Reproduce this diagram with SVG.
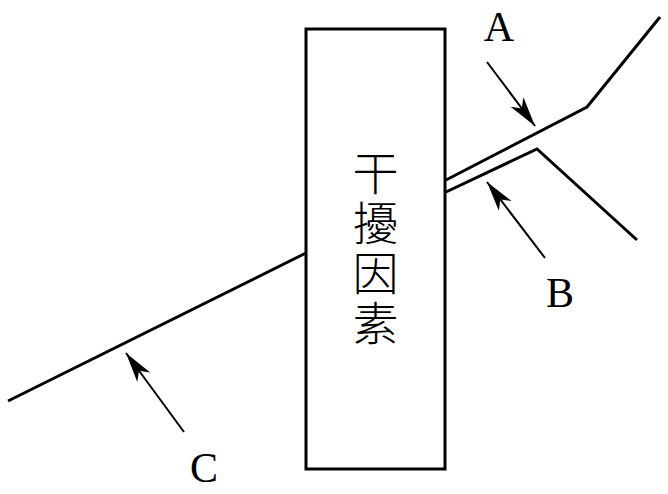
<svg xmlns="http://www.w3.org/2000/svg" width="668" height="494" viewBox="0 0 668 494">
<style>
.main{fill:none;stroke:#000;stroke-width:3;stroke-linejoin:miter}
.arr{fill:none;stroke:#000;stroke-width:2;marker-end:url(#ah)}
.lbl{font-family:"Liberation Serif","Times New Roman",serif;font-size:42px;fill:#000;text-anchor:middle}
.cjk{font-family:"Noto Sans CJK TC","Noto Sans CJK SC",sans-serif;font-size:46px;font-weight:300;fill:#000;writing-mode:vertical-rl;letter-spacing:4px}
</style>
<defs>
<marker id="ah" markerUnits="userSpaceOnUse" markerWidth="34" markerHeight="20" viewBox="-32 -10 34 20" refX="0" refY="0" orient="auto">
<path d="M0,0 L-30,-8 L-22,0 L-30,8 Z" fill="#000"/>
</marker>
</defs>
<g id="interference">
<rect x="306" y="29" width="139" height="440" class="main"/>
<text class="cjk" x="375.5" y="150">干擾因素</text>
</g>
<g id="connectors">
<polyline class="main" points="446,180 587,107 660,17"/>
<polyline class="main" points="446,192 537,149 637,240"/>
<line class="main" x1="8" y1="401" x2="306" y2="253"/>
<line class="arr" x1="487" y1="62" x2="535" y2="126"/>
<line class="arr" x1="545" y1="258" x2="487" y2="182"/>
<line class="arr" x1="184" y1="432" x2="126" y2="353"/>
</g>
<g id="labels">
<text class="lbl" x="499" y="41">A</text>
<text class="lbl" x="560" y="307">B</text>
<text class="lbl" x="204" y="482">C</text>
</g>
</svg>
